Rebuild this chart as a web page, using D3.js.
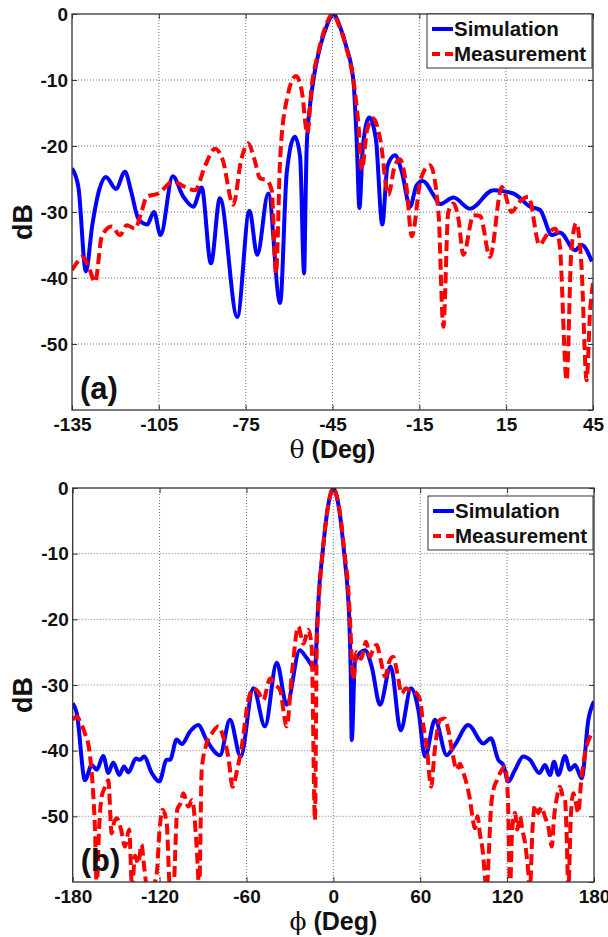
<!DOCTYPE html>
<html>
<head>
<meta charset="utf-8">
<script src="https://cdn.jsdelivr.net/npm/d3@7"></script>
<style>
  body { margin: 0; background: #fff; }
  text { font-family: "Liberation Sans", Arial, sans-serif; font-weight: bold; fill: #111; }
</style>
</head>
<body>
<svg width="608" height="937"></svg>
<script>
// ---- data ----
var yTicks = [0, -10, -20, -30, -40, -50, -60];
var thetaTicks = [-135, -105, -75, -45, -15, 15, 45];
var phiTicks = [-180, -120, -60, 0, 60, 120, 180];
var seriesNames = ['Simulation', 'Measurement'];

// panel (a): theta cut, [deg, dB]
var thetaSim = [[-135,-23.4],[-132.8,-26.2],[-130.2,-39.0],[-128,-32],[-125.5,-26.5],[-123.3,-24.7],[-119.8,-26.5],
  [-116.7,-23.9],[-114.5,-27],[-112.1,-31.0],[-109,-31.9],[-106.7,-30.0],[-104.4,-33.5],[-100.2,-24.6],[-96.5,-27.7],
  [-93.1,-29.2],[-90.2,-26.3],[-87,-37.8],[-83.9,-27.9],[-77.9,-45.9],[-73.7,-29.8],[-71,-36.5],[-67.2,-27.2],
  [-63.1,-43.8],[-60.8,-24],[-58,-18.6],[-56.2,-21.6],[-54.8,-39.3],[-54.3,-28],[-53.9,-20],[-52.8,-14],[-51.6,-10],
  [-49.3,-5],[-47,-1.8],[-44.7,0],[-42.5,-1.8],[-40.2,-5],[-37.8,-10],[-36.6,-19.6],[-35.7,-29.4],[-34.5,-20],
  [-32.3,-15.7],[-30,-19],[-27.8,-31.9],[-26,-23],[-23.4,-21.4],[-21,-24],[-18.2,-29.2],[-16,-26],[-13.8,-25.3],
  [-10,-27.5],[-7.9,-28.8],[-3.2,-27.8],[2.5,-29.5],[10.6,-26.7],[17.5,-27.2],[23.3,-29.2],[26.7,-29.7],
  [30.8,-33.5],[33.6,-33.1],[38.8,-35.8],[41.1,-35],[44.6,-37.5]];
var thetaMeas = [[-135,-38.8],[-133,-37.5],[-131.6,-36.8],[-129.5,-38],[-127,-40.6],[-124.7,-33.7],[-121.3,-32.2],
  [-118.4,-33.5],[-116.1,-32],[-113.2,-32.5],[-111,-30],[-109.2,-27.7],[-105.2,-27.2],[-100,-25.4],[-96,-26.2],
  [-92.5,-26.7],[-89,-23],[-85.6,-20.4],[-83,-22],[-79.3,-28.9],[-76.5,-22],[-74.1,-19.6],[-72,-22],[-70,-24.9],
  [-67.7,-25.2],[-66,-26.7],[-64.5,-39.3],[-63.1,-22],[-60.8,-13],[-57.6,-9.4],[-55.5,-12],[-53.7,-18.1],
  [-52.2,-11],[-50,-6],[-47.5,-2],[-45,0],[-42.5,-2],[-40,-5.5],[-37.8,-10],[-36,-17],[-34.9,-23.6],[-33,-17.5],
  [-30.9,-15.8],[-28.5,-19],[-25.7,-27.4],[-23.5,-23],[-21.7,-22],[-19.5,-26],[-17.6,-33.7],[-14.5,-25],
  [-11.3,-22.9],[-8.4,-30],[-6.7,-47.4],[-5,-30],[-3.2,-28.7],[-1.5,-31],[0.2,-36.5],[3.7,-30.5],[6,-30.6],
  [9.4,-36.8],[13.5,-26.2],[16.9,-30],[19.5,-28.5],[22.7,-27.7],[26.5,-35],[29,-33.5],[31.9,-32.5],[33.5,-35],
  [35.9,-55.5],[37.5,-36],[39.2,-31.7],[41,-38],[42.8,-55.5],[44,-45],[45,-40.8]];

// panel (b): phi cut, [deg, dB]
var phiSim = [[-180,-32.8],[-177.2,-34.3],[-171.5,-44.5],[-166.9,-42.2],[-163.4,-42.9],[-158.9,-40.8],[-155.4,-43.4],
  [-152,-41.8],[-147.8,-43.7],[-144.6,-42.4],[-141.6,-43.3],[-136.3,-41.2],[-133.5,-41.4],[-130.8,-40.9],
  [-125.4,-43.4],[-120.2,-44.7],[-115.1,-41.4],[-112.8,-41.4],[-108.2,-38.3],[-104.7,-39],[-99,-37.1],[-93.3,-36.1],
  [-87.5,-38.4],[-78.3,-40.7],[-71.4,-35.3],[-64,-40.9],[-55.3,-30.5],[-47.2,-36.3],[-39.1,-26.6],[-32.2,-33],
  [-23.2,-24.7],[-18.4,-25.9],[-12.7,-27.5],[-11,-20],[-10,-16],[-7.5,-10],[-4.5,-4],[-2,-1],[0,0],[2,-1],
  [4.5,-4],[7.5,-10],[10,-16],[11,-20],[12,-28],[12.7,-38.4],[15,-26.2],[21.9,-24.7],[26.5,-27.2],[32.2,-33],
  [39.6,-27.2],[46.5,-36.9],[53.6,-30.5],[58.7,-33.8],[63.3,-40.9],[70.2,-35.3],[78.3,-40.7],[84,-39.1],
  [93.2,-36.1],[103.6,-38.9],[108.7,-38.1],[113.9,-41.4],[117.4,-42.2],[120.8,-44.7],[125.5,-42.9],[131.2,-40.9],
  [135.8,-41.4],[142.2,-43.4],[146.2,-42.2],[149.6,-43.7],[152.4,-41.7],[155.4,-43.7],[160,-40.8],[163.4,-42.9],
  [166.9,-42.2],[171.5,-44.2],[176.1,-35.3],[180,-32.5]];
var phiMeas = [[-180,-35.3],[-177.2,-34.8],[-174,-36],[-171.5,-37.4],[-168.5,-40],[-166,-46],[-164.6,-52],
  [-163.4,-61],[-161.8,-52],[-160,-47],[-157.5,-45.5],[-155.4,-44.5],[-153.1,-52.6],[-151.5,-51],[-149.6,-50.3],
  [-146.6,-52],[-143.9,-54.6],[-141,-52],[-139,-61],[-137,-56],[-134.7,-57.2],[-132.5,-54.3],[-130.5,-58],
  [-128.5,-61],[-125.5,-61],[-122,-58.7],[-120,-52],[-117.9,-49],[-115.1,-51],[-112.8,-61],[-110.5,-61],
  [-107.8,-49],[-105.5,-48],[-103.6,-46.5],[-100.1,-48.5],[-97.5,-47.5],[-94.4,-54.6],[-92.6,-61],[-90.9,-42.9],
  [-87.5,-38.9],[-84,-37.4],[-79.4,-36.3],[-76,-37.9],[-72.5,-41],[-69.5,-45.5],[-66.5,-43],[-63.3,-39.4],
  [-58.7,-32.3],[-55.3,-30.5],[-52,-31],[-48.4,-32.3],[-43.7,-29],[-40,-30],[-36.8,-30.8],[-32.2,-36.3],
  [-28.5,-28],[-24.2,-21.1],[-20.7,-23.7],[-17.3,-21.6],[-15,-24.2],[-12.7,-50.6],[-11.5,-25],[-10,-17],
  [-7.5,-10],[-4.5,-4],[-2,-1],[0,0],[2,-1],[4.7,-4],[7.8,-10],[10.5,-16],[11.5,-20],[13.8,-29.2],[16,-25],
  [19,-26],[22.6,-23.4],[25.4,-25.7],[27.5,-24.5],[29.9,-23.9],[32.5,-26],[35.7,-28.7],[38.5,-26.5],[41.4,-25.7],
  [44,-28],[47.2,-31.3],[50,-30.5],[52.9,-30.8],[56,-31],[59.9,-32.3],[62,-36],[64.5,-39.4],[67.5,-45.5],
  [70,-40],[73.7,-35.3],[77,-35.1],[79.5,-37],[82,-40],[85.2,-42.9],[87.5,-42],[89.8,-43.4],[92,-45],[94.4,-47.5],
  [96,-50],[97.8,-51.8],[99.5,-50],[101.2,-52.6],[103,-55],[105.9,-61],[107.5,-55],[108.5,-50],[110.5,-46],
  [113,-44.5],[115.1,-43.4],[118.6,-42.4],[120.5,-47],[122,-61],[123.5,-52],[125.5,-49.5],[127,-52],[128.9,-50],
  [130.5,-52],[132.4,-54.1],[134,-57],[135.8,-61],[137.5,-52],[139.3,-48.3],[141.5,-49.5],[143.9,-48.6],[146,-50],
  [148.5,-51.6],[150.8,-54.6],[152.5,-50],[154.5,-47],[156.5,-45.5],[158.5,-47],[160,-47.5],[161,-52],[162.3,-61],
  [164,-50],[165.7,-46.5],[167.5,-48],[169.2,-49.5],[171,-45],[173.8,-40.4],[177,-38],[180,-37.1]];

var svg = d3.select('svg');

function drawPanel(o) {
  var x = d3.scaleLinear().domain([o.ticks[0], o.ticks[o.ticks.length-1]]).range([o.left, o.right]);
  var y = d3.scaleLinear().domain([-60, 0]).range([o.bottom, o.top]);
  var g = svg.append('g');

  // dotted grid
  g.selectAll('.gx').data(o.ticks.slice(1, -1)).enter().append('line')
    .attr('x1', x).attr('x2', x).attr('y1', o.top).attr('y2', o.bottom)
    .attr('stroke', '#777').attr('stroke-width', 1).attr('stroke-dasharray', '1,2');
  g.selectAll('.gy').data(yTicks.slice(1, -1)).enter().append('line')
    .attr('x1', o.left).attr('x2', o.right).attr('y1', y).attr('y2', y)
    .attr('stroke', '#777').attr('stroke-width', 1).attr('stroke-dasharray', '1,2');

  // curves
  g.append('clipPath').attr('id', o.id).append('rect')
    .attr('x', o.left).attr('y', o.top).attr('width', o.right - o.left).attr('height', o.bottom - o.top);
  var line = d3.line().x(function(d){ return x(d[0]); }).y(function(d){ return y(d[1]); })
    .curve(d3.curveMonotoneX);
  g.append('path').datum(o.sim).attr('d', line).attr('clip-path', 'url(#' + o.id + ')')
    .attr('fill', 'none').attr('stroke', '#0000ff').attr('stroke-width', 4).attr('stroke-linejoin', 'round');
  g.append('path').datum(o.meas).attr('d', line).attr('clip-path', 'url(#' + o.id + ')')
    .attr('fill', 'none').attr('stroke', '#ff0000').attr('stroke-width', 4).attr('stroke-dasharray', '11,5');

  // axes, ticks pointing in
  var fmt = function(d){ return String(d); };
  var ax = g.append('g').attr('transform', 'translate(0,' + o.bottom + ')')
    .call(d3.axisBottom(x).tickValues(o.ticks).tickSize(-5).tickSizeOuter(0).tickPadding(8).tickFormat(fmt));
  var ay = g.append('g').attr('transform', 'translate(' + o.left + ',0)')
    .call(d3.axisLeft(y).tickValues(yTicks.slice(0, -1)).tickSize(-5).tickSizeOuter(0).tickPadding(4).tickFormat(fmt));
  var at = g.append('g').attr('transform', 'translate(0,' + o.top + ')')
    .call(d3.axisTop(x).tickValues(o.ticks).tickSize(-5).tickSizeOuter(0).tickFormat(''));
  var ar = g.append('g').attr('transform', 'translate(' + o.right + ',0)')
    .call(d3.axisRight(y).tickValues(yTicks).tickSize(-5).tickSizeOuter(0).tickFormat(''));
  [ax, ay, at, ar].forEach(function(a){
    a.select('.domain').remove();
    a.selectAll('line').attr('stroke', '#333');
    a.selectAll('text').attr('font-size', 19).attr('font-family', '"Liberation Sans", Arial, sans-serif')
      .attr('font-weight', 'bold').attr('fill', '#111');
  });

  g.append('rect').attr('x', o.left).attr('y', o.top).attr('width', o.right - o.left).attr('height', o.bottom - o.top)
    .attr('fill', 'none').attr('stroke', '#333').attr('stroke-width', 1.3);

  // titles
  var t = g.append('text').attr('x', (o.left + o.right) / 2).attr('y', o.bottom + 48)
    .attr('text-anchor', 'middle').attr('font-size', 25);
  t.append('tspan').attr('font-family', '"DejaVu Serif", serif').attr('font-weight', 'normal').text(o.greek);
  t.append('tspan').text(' (Deg)');
  g.append('text').attr('transform', 'translate(32,' + ((o.top + o.bottom) / 2 + 10) + ') rotate(-90)')
    .attr('text-anchor', 'middle').attr('font-size', 27).text('dB');
  g.append('text').attr('x', o.left + 8).attr('y', o.bottom - 11).attr('font-size', 31).text(o.label);

  // legend
  var lg = g.append('g').attr('transform', 'translate(' + o.legX + ',' + o.legY + ')');
  lg.append('rect').attr('width', 165).attr('height', 54).attr('fill', '#fff').attr('stroke', '#333').attr('stroke-width', 1);
  var styles = [{c: '#0000ff', dash: null}, {c: '#ff0000', dash: '8,5'}];
  seriesNames.forEach(function(name, i){
    var yy = 15 + i * 25;
    lg.append('line').attr('x1', 5).attr('x2', 26).attr('y1', yy).attr('y2', yy)
      .attr('stroke', styles[i].c).attr('stroke-width', 4).attr('stroke-dasharray', styles[i].dash);
    lg.append('text').attr('x', 27).attr('y', yy + 7).attr('font-size', 20.5).text(name);
  });
}

drawPanel({id: 'clipA', left: 72, right: 593, top: 14, bottom: 410, ticks: thetaTicks,
  sim: thetaSim, meas: thetaMeas, greek: 'θ', label: '(a)', legX: 427, legY: 14});
drawPanel({id: 'clipB', left: 72.7, right: 594, top: 488, bottom: 882, ticks: phiTicks,
  sim: phiSim, meas: phiMeas, greek: 'ϕ', label: '(b)', legX: 428, legY: 496});
</script>
</body>
</html>
